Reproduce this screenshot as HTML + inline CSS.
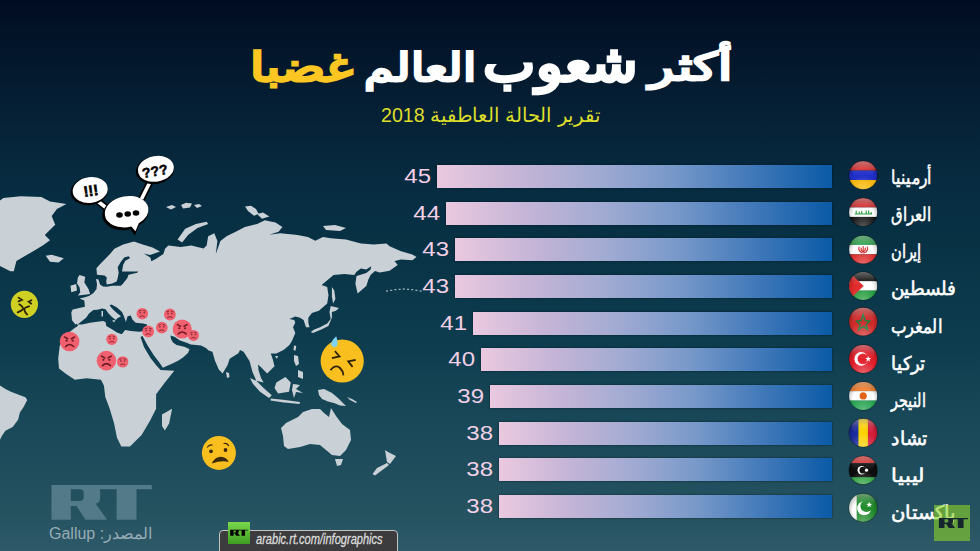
<!DOCTYPE html>
<html><head><meta charset="utf-8">
<style>
html,body{margin:0;padding:0;}
body{width:980px;height:551px;overflow:hidden;position:relative;
background:linear-gradient(180deg,#010c23 0%,#021227 5.4%,#051d32 17%,#072d42 35%,#083144 43.5%,#0b394b 54.4%,#0e3d4f 63.5%,#164656 72.6%,#1d4b5b 81.7%,#25525f 92.5%,#2d5969 100%);
font-family:"Liberation Sans",sans-serif;}
.abs{position:absolute;white-space:nowrap;}
.tw{font-size:40px;font-weight:bold;-webkit-text-stroke:1.5px currentColor;transform-origin:0 0;line-height:60px;}
svg{position:absolute;left:0;top:0;}
.bar{position:absolute;height:23px;background:linear-gradient(90deg,#eac9df 0%,#c6b5d7 20%,#a2abd2 40%,#7698c9 60%,#4078b9 80%,#0a5aa6 100%);box-shadow:0 0 2px rgba(0,10,20,.6);}
.num{position:absolute;font-size:20px;color:#f2d0e6;text-align:right;width:60px;line-height:23px;transform-origin:100% 50%;transform:scaleX(1.2);}
.name{position:absolute;left:891px;font-size:15px;font-weight:normal;-webkit-text-stroke:0.45px #fff;color:#fff;white-space:nowrap;transform-origin:0 50%;line-height:20px;}
</style></head><body>

<svg width="980" height="551" viewBox="0 0 980 551">
<path fill="#c9d1d7" fill-rule="evenodd" d="M0.0,200.5 L3.4,197.9 L20.7,196.2 L41.4,197.1 L50.0,201.4 L66.4,204.0 L56.9,209.1 L51.7,216.0 L55.2,224.7 L48.3,231.6 L44.8,235.0 L50.0,240.2 L43.1,245.3 L34.5,250.5 L22.4,257.4 L16.4,260.9 L13.8,271.2 L10.3,271.2 L0.0,266.0Z M45.7,255.7 L51.7,254.8 L63.8,258.3 L58.6,262.6 L50.0,261.7Z M79.5,275.1 L85.2,276.7 L84.4,282.4 L88.5,289.0 L90.1,293.9 L84.4,294.7 L77.9,295.5 L80.3,292.2 L79.5,287.3 L77.0,283.3 L77.9,277.6Z M70.5,285.7 L76.2,284.1 L77.0,290.6 L71.3,292.2Z M97.0,274.8 L96.4,268.3 L100.2,264.0 L110.0,254.1 L114.4,248.7 L123.1,244.4 L134.0,241.6 L142.7,244.4 L152.5,247.6 L160.0,251.5 L150.0,255.0 L143.8,253.6 L150.3,257.4 L151.4,261.2 L155.7,259.0 L163.4,254.1 L165.0,248.7 L168.4,245.5 L180.6,247.0 L191.3,245.5 L203.6,248.6 L206.6,245.5 L208.2,236.3 L214.3,233.3 L217.4,241.0 L215.8,254.0 L220.4,241.0 L226.5,236.3 L235.7,231.7 L244.9,227.1 L257.1,224.1 L264.8,220.3 L275.5,222.6 L282.4,227.1 L278.6,231.7 L269.4,234.8 L280.1,233.3 L295.4,234.8 L300.0,235.6 L307.8,237.0 L315.4,240.8 L323.0,237.0 L330.7,238.3 L346.0,239.5 L361.0,243.4 L373.8,244.6 L386.5,243.4 L389.6,246.3 L401.0,251.2 L412.4,254.5 L416.5,257.0 L412.4,260.2 L401.0,259.4 L394.5,261.0 L397.7,265.0 L389.6,270.8 L379.8,272.4 L375.0,271.0 L370.6,275.1 L368.4,279.4 L366.3,286.0 L357.6,293.6 L355.4,283.8 L356.5,276.1 L366.3,272.9 L370.6,269.6 L371.2,266.3 L366.3,269.6 L360.8,268.5 L356.5,271.8 L354.3,275.1 L344.5,274.0 L333.6,275.1 L327.0,280.5 L321.6,284.9 L327.2,287.1 L328.5,295.3 L327.2,303.6 L318.9,310.7 L311.9,313.0 L308.3,317.7 L308.3,322.5 L309.5,327.2 L306.0,327.2 L303.6,320.1 L300.0,317.7 L295.3,316.6 L289.4,318.9 L294.2,320.1 L295.3,322.5 L293.0,327.2 L295.3,333.1 L291.8,341.3 L289.4,345.0 L283.5,350.0 L276.3,353.5 L270.8,353.5 L272.7,359.0 L274.5,366.3 L267.2,373.5 L261.8,368.0 L258.1,364.4 L258.5,370.0 L261.0,378.0 L263.6,382.6 L256.3,380.8 L252.5,372.0 L249.5,361.0 L243.6,351.7 L240.0,350.0 L238.4,353.3 L229.7,358.8 L227.5,365.3 L222.6,373.4 L218.8,369.6 L215.0,360.7 L212.4,351.8 L208.6,350.5 L206.0,348.0 L201.0,345.4 L190.8,344.5 L186.0,342.5 L180.0,340.5 L175.0,337.0 L170.5,335.5 L171.0,339.0 L173.0,342.5 L176.5,345.0 L181.0,346.0 L185.0,347.0 L189.6,349.2 L188.0,353.0 L183.0,357.5 L178.0,360.7 L173.0,363.2 L162.9,367.8 L159.0,362.0 L154.0,355.6 L147.6,345.4 L142.5,336.0 L140.5,337.0 L144.0,347.0 L150.5,358.0 L156.0,365.0 L160.5,370.0 L174.3,370.8 L164.9,382.6 L156.1,394.2 L156.1,408.7 L150.3,420.3 L141.6,434.9 L130.0,446.5 L121.3,446.5 L117.0,437.8 L114.0,423.0 L109.7,408.7 L105.3,397.0 L103.9,385.5 L101.0,379.7 L86.5,378.2 L74.8,379.7 L66.1,374.0 L59.0,368.4 L58.2,358.6 L59.8,345.6 L62.5,340.7 L67.2,334.0 L74.0,328.5 L78.1,325.8 L76.8,323.7 L75.4,324.4 L72.0,320.3 L71.3,312.2 L72.7,309.5 L84.9,306.7 L84.3,300.6 L79.5,298.6 L84.0,297.5 L89.0,296.0 L93.5,293.0 L96.5,289.0 L97.0,284.0 L96.0,279.0 L98.5,279.5 L100.0,284.5 L103.0,286.5 L106.8,286.8 L112.2,285.7 L120.9,285.7 L123.1,283.5 L127.4,278.1 L128.5,274.8 L137.2,272.7 L138.3,271.6 L126.4,271.6 L122.0,271.6 L123.1,265.0 L125.3,260.7 L130.2,258.0 L128.5,256.3 L124.2,257.4 L120.9,261.8 L117.7,267.2 L118.7,272.7 L117.7,278.0 L116.6,281.4 L112.2,283.5 L106.8,284.6 L106.2,281.4 L106.8,277.6 L104.6,275.4Z M77.5,324.5 L79.5,323.0 L86.3,317.6 L89.0,313.5 L93.3,310.1 L97.3,309.7 L102.2,308.5 L105.5,309.3 L108.8,313.8 L112.0,317.0 L114.5,319.0 L116.0,320.0 L117.0,318.5 L121.0,316.2 L116.9,313.0 L112.0,308.5 L109.6,305.2 L111.5,304.5 L117.0,307.5 L122.0,312.0 L124.0,316.5 L125.9,321.9 L127.6,316.2 L130.8,315.4 L132.4,319.5 L135.7,322.8 L143.1,323.6 L147.1,324.4 L145.5,330.9 L139.0,331.7 L130.8,330.9 L125.1,330.1 L121.8,334.2 L116.9,332.6 L112.0,329.3 L106.3,326.0 L105.5,321.9 L103.0,321.1 L90.0,322.8 L82.2,324.4Z M101.5,311.0 L103.0,311.0 L103.0,316.5 L101.5,316.5Z M112.0,320.5 L115.5,320.0 L114.0,322.5Z M162.0,414.5 L172.1,408.7 L169.2,423.2 L164.9,430.5 L162.0,426.0Z M0.0,385.4 L5.4,389.0 L10.9,391.7 L18.1,394.4 L25.4,397.2 L27.2,399.9 L23.6,407.0 L19.9,412.6 L18.1,419.8 L12.7,427.0 L5.4,430.7 L1.8,436.0 L0.0,439.8Z M281.0,428.0 L286.0,423.0 L298.0,417.0 L303.0,412.0 L312.0,409.0 L320.0,409.0 L324.0,413.0 L329.0,417.0 L331.0,408.0 L336.0,416.0 L342.0,424.0 L350.0,430.0 L351.0,440.0 L346.0,450.0 L340.0,456.0 L332.0,455.0 L326.0,450.0 L320.0,445.0 L310.0,444.0 L300.0,447.0 L288.0,449.0 L284.0,446.0 L283.0,436.0Z M335.0,459.0 L343.0,459.0 L341.0,465.0 L337.0,466.0Z M385.0,450.0 L388.0,452.0 L396.0,456.0 L390.0,464.0 L387.0,462.0Z M387.0,463.0 L389.0,465.0 L381.0,471.0 L375.0,475.5 L372.5,474.0 L377.0,468.0Z M318.0,390.0 L324.0,389.0 L332.0,393.0 L338.0,398.0 L344.0,404.0 L346.0,406.0 L340.0,405.5 L334.0,403.0 L328.0,401.5 L322.0,399.0 L319.0,395.0Z M347.0,397.0 L352.0,399.0 L357.0,402.0 L356.0,403.0 L350.0,400.0Z M276.3,382.6 L285.4,377.1 L290.8,382.6 L289.0,391.7 L278.1,393.5 L274.5,388.0Z M293.0,384.0 L300.0,385.0 L296.0,389.0 L303.0,393.0 L296.0,392.0 L294.0,398.0 L292.0,390.0Z M270.8,398.5 L285.0,400.0 L300.0,402.0 L299.5,404.0 L284.0,402.5 L270.5,400.5Z M250.0,378.0 L256.3,380.8 L263.6,388.0 L271.8,395.3 L269.0,398.0 L260.0,391.7 L252.7,383.5Z M294.0,355.0 L298.0,356.0 L299.0,364.0 L296.0,366.0 L294.0,361.0Z M298.0,370.0 L303.0,372.0 L303.0,379.0 L298.0,377.0Z M294.0,345.4 L296.3,346.0 L295.5,350.8 L293.5,350.0Z M330.7,306.0 L339.0,308.0 L336.0,310.7 L331.9,311.9 L331.9,317.7 L328.4,326.0 L321.3,329.5 L313.0,333.1 L310.7,331.9 L314.2,329.5 L320.1,327.2 L327.2,323.6 L330.7,318.9 L329.5,311.9Z M331.9,287.1 L334.3,290.6 L335.4,298.9 L333.1,303.6 L331.9,296.5Z M177.6,239.4 L185.2,228.7 L195.9,224.1 L206.6,221.8 L208.2,224.1 L197.5,227.9 L188.3,234.8 L182.1,242.5Z M166.0,207.0 L172.0,205.0 L176.0,207.0 L171.0,209.5Z M181.0,205.0 L186.0,202.7 L192.0,203.5 L190.0,207.5 L183.0,208.5Z M194.0,205.0 L199.0,204.0 L202.0,206.0 L197.0,208.0Z M245.0,206.5 L251.0,205.7 L256.0,209.0 L258.7,214.0 L254.0,215.7 L248.0,211.0Z M257.0,214.0 L263.0,212.6 L269.4,216.5 L262.0,218.7Z M323.0,226.0 L335.0,225.0 L346.0,228.0 L340.0,231.0 L326.0,230.0Z M226.0,372.0 L229.0,373.0 L229.5,377.0 L227.0,378.0Z M275.0,356.0 L278.0,356.0 L277.0,359.0Z"/>
<rect x="386.0" y="290.5" width="2" height="1" fill="#c9d1d7"/>
<rect x="390.2" y="289.8" width="2" height="1" fill="#c9d1d7"/>
<rect x="394.4" y="289.2" width="2" height="1" fill="#c9d1d7"/>
<rect x="398.6" y="288.8" width="2" height="1" fill="#c9d1d7"/>
<rect x="402.8" y="288.5" width="2" height="1" fill="#c9d1d7"/>
<rect x="407.0" y="288.8" width="2" height="1" fill="#c9d1d7"/>
<rect x="411.2" y="289.2" width="2" height="1" fill="#c9d1d7"/>
<rect x="415.4" y="289.8" width="2" height="1" fill="#c9d1d7"/>
<rect x="419.6" y="290.5" width="2" height="1" fill="#c9d1d7"/>
<circle cx="69.6" cy="341.5" r="9.8" fill="#f0606e"/><g transform="translate(69.6,341.5) scale(1.000)" fill="none" stroke="#6e1c26" stroke-width="1.6" stroke-linecap="round"><path d="M-5,-4.5 L-1.8,-2.8 M5,-4.5 L1.8,-2.8"/><circle cx="-3" cy="-0.8" r="1.1" fill="#6e1c26" stroke="none"/><circle cx="3" cy="-0.8" r="1.1" fill="#6e1c26" stroke="none"/><path d="M-4,5 Q0,1 4,5"/></g>
<circle cx="111.8" cy="339.3" r="5.6" fill="#f0606e"/><g transform="translate(111.8,339.3) scale(0.982)" fill="none" stroke="#7a2430" stroke-width="0.9" stroke-linecap="round"><path d="M-3,-2.6 L-1.2,-3.2 M3,-2.6 L1.2,-3.2"/><circle cx="-1.9" cy="-0.9" r="0.8" fill="#7a2430" stroke="none"/><circle cx="1.9" cy="-0.9" r="0.8" fill="#7a2430" stroke="none"/><path d="M-2.2,2.8 Q0,0.9 2.2,2.8"/></g>
<circle cx="106.4" cy="360.6" r="9.8" fill="#f0606e"/><g transform="translate(106.4,360.6) scale(1.000)" fill="none" stroke="#6e1c26" stroke-width="1.6" stroke-linecap="round"><path d="M-5,-4.5 L-1.8,-2.8 M5,-4.5 L1.8,-2.8"/><circle cx="-3" cy="-0.8" r="1.1" fill="#6e1c26" stroke="none"/><circle cx="3" cy="-0.8" r="1.1" fill="#6e1c26" stroke="none"/><path d="M-4,5 Q0,1 4,5"/></g>
<circle cx="122.7" cy="361.9" r="5.7" fill="#f0606e"/><g transform="translate(122.7,361.9) scale(1.000)" fill="none" stroke="#7a2430" stroke-width="0.9" stroke-linecap="round"><path d="M-3,-2.6 L-1.2,-3.2 M3,-2.6 L1.2,-3.2"/><circle cx="-1.9" cy="-0.9" r="0.8" fill="#7a2430" stroke="none"/><circle cx="1.9" cy="-0.9" r="0.8" fill="#7a2430" stroke="none"/><path d="M-2.2,2.8 Q0,0.9 2.2,2.8"/></g>
<circle cx="142.3" cy="313.7" r="5.8" fill="#f0606e"/><g transform="translate(142.3,313.7) scale(1.018)" fill="none" stroke="#7a2430" stroke-width="0.9" stroke-linecap="round"><path d="M-3,-2.6 L-1.2,-3.2 M3,-2.6 L1.2,-3.2"/><circle cx="-1.9" cy="-0.9" r="0.8" fill="#7a2430" stroke="none"/><circle cx="1.9" cy="-0.9" r="0.8" fill="#7a2430" stroke="none"/><path d="M-2.2,2.8 Q0,0.9 2.2,2.8"/></g>
<circle cx="169.9" cy="314.5" r="5.9" fill="#f0606e"/><g transform="translate(169.9,314.5) scale(1.035)" fill="none" stroke="#7a2430" stroke-width="0.9" stroke-linecap="round"><path d="M-3,-2.6 L-1.2,-3.2 M3,-2.6 L1.2,-3.2"/><circle cx="-1.9" cy="-0.9" r="0.8" fill="#7a2430" stroke="none"/><circle cx="1.9" cy="-0.9" r="0.8" fill="#7a2430" stroke="none"/><path d="M-2.2,2.8 Q0,0.9 2.2,2.8"/></g>
<circle cx="148.2" cy="331.5" r="5.9" fill="#f0606e"/><g transform="translate(148.2,331.5) scale(1.035)" fill="none" stroke="#7a2430" stroke-width="0.9" stroke-linecap="round"><path d="M-3,-2.6 L-1.2,-3.2 M3,-2.6 L1.2,-3.2"/><circle cx="-1.9" cy="-0.9" r="0.8" fill="#7a2430" stroke="none"/><circle cx="1.9" cy="-0.9" r="0.8" fill="#7a2430" stroke="none"/><path d="M-2.2,2.8 Q0,0.9 2.2,2.8"/></g>
<circle cx="161.8" cy="327.7" r="5.9" fill="#f0606e"/><g transform="translate(161.8,327.7) scale(1.035)" fill="none" stroke="#7a2430" stroke-width="0.9" stroke-linecap="round"><path d="M-3,-2.6 L-1.2,-3.2 M3,-2.6 L1.2,-3.2"/><circle cx="-1.9" cy="-0.9" r="0.8" fill="#7a2430" stroke="none"/><circle cx="1.9" cy="-0.9" r="0.8" fill="#7a2430" stroke="none"/><path d="M-2.2,2.8 Q0,0.9 2.2,2.8"/></g>
<circle cx="182.2" cy="329" r="9.6" fill="#f0606e"/><g transform="translate(182.2,329) scale(0.980)" fill="none" stroke="#6e1c26" stroke-width="1.6" stroke-linecap="round"><path d="M-5,-4.5 L-1.8,-2.8 M5,-4.5 L1.8,-2.8"/><circle cx="-3" cy="-0.8" r="1.1" fill="#6e1c26" stroke="none"/><circle cx="3" cy="-0.8" r="1.1" fill="#6e1c26" stroke="none"/><path d="M-4,5 Q0,1 4,5"/></g>
<circle cx="193.5" cy="335.4" r="5.5" fill="#f0606e"/><g transform="translate(193.5,335.4) scale(0.965)" fill="none" stroke="#7a2430" stroke-width="0.9" stroke-linecap="round"><path d="M-3,-2.6 L-1.2,-3.2 M3,-2.6 L1.2,-3.2"/><circle cx="-1.9" cy="-0.9" r="0.8" fill="#7a2430" stroke="none"/><circle cx="1.9" cy="-0.9" r="0.8" fill="#7a2430" stroke="none"/><path d="M-2.2,2.8 Q0,0.9 2.2,2.8"/></g>
<circle cx="24.4" cy="304.3" r="13.6" fill="#cfd023"/><g fill="none" stroke="#2a2208" stroke-width="1.7" stroke-linecap="round"><path d="M18.5,297.6 L22,299.9 L18.5,301.4"/><path d="M31.5,300.2 L28.6,301.7 L31.3,303.7"/><path d="M19.3,304.3 Q24.5,308 22.8,309.5 Q20.5,311.5 17.6,312.4"/><path d="M29.2,306.3 Q24,307.5 24.3,309.5 Q24.8,312.5 27.2,314.5"/></g>
<circle cx="342.2" cy="361" r="21.6" fill="#f9bf1e"/><path d="M336.2,336.3 Q330,342 331.5,345.5 Q334,348.5 337,346 Q338.5,343 336.2,336.3Z" fill="#7fd3ee"/><g fill="none" stroke="#2e2208" stroke-width="1.8" stroke-linecap="square"><path d="M335.5,351.8 L339.5,356.5 L332.8,358"/><path d="M354.8,360 L348.2,361.4 L352,366.2"/><path d="M331,369.5 Q336,364 340,368 Q343,371 343.3,374.5"/></g>
<circle cx="218.9" cy="452.9" r="17" fill="#f9bf1e"/><g fill="none" stroke="#3a2a10" stroke-width="1.2" stroke-linecap="round"><path d="M207.5,447 Q209.5,444.5 212.3,445"/><path d="M224,443.5 Q227,443 228.6,445.6"/></g><circle cx="211" cy="451.3" r="1.9" fill="#3a2a10"/><circle cx="225.5" cy="450" r="1.9" fill="#3a2a10"/><path d="M211.8,463.6 Q215,456.5 221,456.8 Q226.5,457 228.7,462 Q222,459.8 211.8,463.6Z" fill="#3a2a10"/>
<g><line x1="95" y1="199" x2="109" y2="210" stroke="#000" stroke-width="7"/><line x1="150" y1="182" x2="141.5" y2="199" stroke="#000" stroke-width="7"/><line x1="95" y1="199" x2="109" y2="210" stroke="#fff" stroke-width="3.6"/><line x1="150" y1="182" x2="141.5" y2="199" stroke="#fff" stroke-width="3.6"/><ellipse cx="89.2" cy="191" rx="18.8" ry="14" fill="#000" transform="rotate(-8 90.2 190)"/><ellipse cx="90.2" cy="190" rx="17.6" ry="12.8" fill="#fff" transform="rotate(-8 90.2 190)"/><ellipse cx="154.9" cy="169.8" rx="19.3" ry="14" fill="#000" transform="rotate(-10 155.9 168.8)"/><ellipse cx="155.9" cy="168.8" rx="18.1" ry="12.8" fill="#fff" transform="rotate(-10 155.9 168.8)"/><g transform="rotate(-10 127 211)"><path d="M102.8,212 A23.2,16.6 0 1 1 149.2,212 A23.2,16.6 0 0 1 137,226.5 L131.5,235.5 L128,228.6 A23.2,16.6 0 0 1 102.8,212Z" fill="#000" transform="translate(-1,1)"/><path d="M104.5,211.5 A22,15.4 0 1 1 148.5,211.5 A22,15.4 0 0 1 136.5,225 L131.8,232.5 L128.6,227 A22,15.4 0 0 1 104.5,211.5Z" fill="#fff"/></g></g><ellipse cx="119.5" cy="215" rx="3.3" ry="2.8" fill="#000"/><ellipse cx="127.7" cy="214" rx="3.3" ry="2.8" fill="#000"/><ellipse cx="136" cy="213" rx="3.3" ry="2.8" fill="#000"/><text x="91" y="196" font-family="Liberation Sans" font-weight="bold" font-size="15" text-anchor="middle" fill="#000" stroke="#000" stroke-width="0.6" transform="rotate(-8 91 192)">!!!</text><text x="155" y="176" font-family="Liberation Sans" font-weight="bold" font-size="14" text-anchor="middle" fill="#000" stroke="#000" stroke-width="0.5" transform="rotate(-10 155 172)">???</text>
<g fill="#537a89"><path fill-rule="evenodd" d="M51.5,485 H95 Q100.2,485 100.2,492 V497 Q100.2,503.5 95.5,503.6 L107.2,519.7 H85.5 L76.5,506 H70.8 V519.7 H51.5Z M70.8,489.2 H80 Q83.7,489.2 83.7,493 V497 Q83.7,500.9 80,500.9 H70.8Z"/><path d="M95,485 H151.8 V489.2 H136.5 V519.7 H116.6 V489.2 H97Z"/></g>
</svg>
<div class="abs" id="src" style="left:49px;top:524px;font-size:16px;color:#98adb5;transform-origin:0 0;transform:scaleX(1.0)">Gallup :المصدر</div>
<div class="abs" style="left:219px;top:529.5px;width:179px;height:30px;background:#3c3c3e;border:1.2px solid #c4c4c4;border-radius:4px;box-sizing:border-box"></div>
<div class="abs" style="left:227.5px;top:522px;width:22.5px;height:22.3px;background:linear-gradient(180deg,#7ad84c,#3e9c22)"></div>
<svg width="980" height="551"><g transform="translate(221.21,445.07) scale(0.1745)" fill="#000"><path fill-rule="evenodd" d="M51.5,485 H95 Q100.2,485 100.2,492 V497 Q100.2,503.5 95.5,503.6 L107.2,519.7 H85.5 L76.5,506 H70.8 V519.7 H51.5Z M70.8,489.2 H80 Q83.7,489.2 83.7,493 V497 Q83.7,500.9 80,500.9 H70.8Z"/><path d="M95,485 H151.8 V489.2 H136.5 V519.7 H116.6 V489.2 H97Z"/></g></svg>
<div class="abs" style="left:255.5px;top:530.5px;font-size:14px;font-style:italic;color:#dcdcdc;-webkit-text-stroke:0.3px #dcdcdc;transform-origin:0 0;transform:scaleX(0.79)">arabic.rt.com/infographics</div>
<div class="abs tw" id="w0" style="left:249.8px;top:37px;color:#fcc623;transform:scale(1.067,1.0)">غضبا</div>
<div class="abs tw" id="w1" style="left:364px;top:37.5px;color:#fff;transform:scale(0.99,0.985)">العالم</div>
<div class="abs tw" id="w2" style="left:482.6px;top:24.6px;color:#fff;transform:scale(1.22,1.27)">شعوب</div>
<div class="abs tw" id="w3" style="left:649.1px;top:38.2px;color:#fff;transform:scale(1.066,0.96)">أكثر</div>
<div class="abs" id="sub" style="left:381px;top:103px;font-size:20px;color:#dede2a;transform-origin:0 0;transform:scaleX(0.98)">تقرير الحالة العاطفية 2018</div>
<div class="bar" style="left:437px;top:165.00px;width:395px"></div>
<div class="num" style="left:371px;top:165.00px">45</div>
<div class="name" id="n0" style="top:167.50px;transform:scale(1.026,1.25)">أرمينيا</div>
<div class="bar" style="left:446px;top:201.65px;width:386px"></div>
<div class="num" style="left:380px;top:201.65px">44</div>
<div class="name" id="n1" style="top:204.80px;transform:scale(0.987,1.25)">العراق</div>
<div class="bar" style="left:455px;top:238.30px;width:377px"></div>
<div class="num" style="left:389px;top:238.30px">43</div>
<div class="name" id="n2" style="top:242.10px;transform:scale(0.967,1.25)">إيران</div>
<div class="bar" style="left:455px;top:274.95px;width:377px"></div>
<div class="num" style="left:389px;top:274.95px">43</div>
<div class="name" id="n3" style="top:279.40px;transform:scale(1.216,1.25)">فلسطين</div>
<div class="bar" style="left:472.5px;top:311.60px;width:359.5px"></div>
<div class="num" style="left:406.5px;top:311.60px">41</div>
<div class="name" id="n4" style="top:316.70px;transform:scale(1.089,1.25)">المغرب</div>
<div class="bar" style="left:481px;top:348.25px;width:351px"></div>
<div class="num" style="left:415px;top:348.25px">40</div>
<div class="name" id="n5" style="top:354.00px;transform:scale(1.179,1.25)">تركيا</div>
<div class="bar" style="left:490px;top:384.90px;width:342px"></div>
<div class="num" style="left:424px;top:384.90px">39</div>
<div class="name" id="n6" style="top:391.30px;transform:scale(0.946,1.25)">النيجر</div>
<div class="bar" style="left:499px;top:421.55px;width:333px"></div>
<div class="num" style="left:433px;top:421.55px">38</div>
<div class="name" id="n7" style="top:428.60px;transform:scale(1.241,1.25)">تشاد</div>
<div class="bar" style="left:499px;top:458.20px;width:333px"></div>
<div class="num" style="left:433px;top:458.20px">38</div>
<div class="name" id="n8" style="top:465.90px;transform:scale(1.374,1.25)">ليبيا</div>
<div class="bar" style="left:499px;top:494.85px;width:333px"></div>
<div class="num" style="left:433px;top:494.85px">38</div>
<div class="name" id="n9" style="top:503.20px;transform:scale(1.292,1.25)">باكستان</div>
<svg width="980" height="551"><defs><linearGradient id="gloss" x1="0" y1="0" x2="0" y2="1"><stop offset="0" stop-color="#fff" stop-opacity="0.38"/><stop offset="0.55" stop-color="#fff" stop-opacity="0.08"/><stop offset="1" stop-color="#fff" stop-opacity="0"/></linearGradient><radialGradient id="shade" cx="0.5" cy="0.6" r="0.6"><stop offset="0.6" stop-color="#000" stop-opacity="0"/><stop offset="1" stop-color="#000" stop-opacity="0.3"/></radialGradient><radialGradient id="glow" cx="0.5" cy="1" r="0.5"><stop offset="0" stop-color="#fff" stop-opacity="0.3"/><stop offset="1" stop-color="#fff" stop-opacity="0"/></radialGradient></defs><clipPath id="cam"><circle cx="863.2" cy="175.3" r="14.2"/></clipPath><g clip-path="url(#cam)"><rect x="849.0" y="161.10000000000002" width="28.4" height="9.466666666666667" fill="#d92b2b"/><rect x="849.0" y="170.5666666666667" width="28.4" height="9.466666666666667" fill="#1f2fc8"/><rect x="849.0" y="180.03333333333336" width="28.4" height="9.466666666666667" fill="#f5b400"/><circle cx="863.2" cy="175.3" r="14.2" fill="url(#shade)"/><ellipse cx="863.2" cy="168.91000000000003" rx="11.643999999999998" ry="7.8100000000000005" fill="url(#gloss)"/><circle cx="863.2" cy="175.3" r="14.2" fill="url(#glow)"/></g><circle cx="863.2" cy="175.3" r="14.5" fill="none" stroke="rgba(0,0,0,0.35)" stroke-width="0.8"/><clipPath id="ciq"><circle cx="863.2" cy="212.2" r="14.2"/></clipPath><g clip-path="url(#ciq)"><rect x="849.0" y="198.0" width="28.4" height="9.466666666666667" fill="#d42a2a"/><rect x="849.0" y="207.46666666666667" width="28.4" height="9.466666666666667" fill="#ffffff"/><rect x="849.0" y="216.93333333333334" width="28.4" height="9.466666666666667" fill="#111111"/><path d="M854.7,214.0 H872.2 M856.2,214.0 v-3.5 M859.2,214.0 v-2.5 M861.7,214.0 v-3 M866.2,214.0 v-3.5 M868.7,214.0 v-3.5 M871.2,214.0 v-2" stroke="#2c9a3a" stroke-width="1.1" fill="none"/><circle cx="863.2" cy="212.2" r="14.2" fill="url(#shade)"/><ellipse cx="863.2" cy="205.81" rx="11.643999999999998" ry="7.8100000000000005" fill="url(#gloss)"/><circle cx="863.2" cy="212.2" r="14.2" fill="url(#glow)"/></g><circle cx="863.2" cy="212.2" r="14.5" fill="none" stroke="rgba(0,0,0,0.35)" stroke-width="0.8"/><clipPath id="cir"><circle cx="863.2" cy="249.6" r="14.2"/></clipPath><g clip-path="url(#cir)"><rect x="849.0" y="235.4" width="28.4" height="9.466666666666667" fill="#2aa04a"/><rect x="849.0" y="244.86666666666667" width="28.4" height="9.466666666666667" fill="#ffffff"/><rect x="849.0" y="254.33333333333334" width="28.4" height="9.466666666666667" fill="#dd2a2a"/><path d="M859.2,246.6 Q857.7,250.6 862.2,253.1 M867.2,246.6 Q868.7,250.6 864.2,253.1 M863.2,246.1 V253.6 M861.2,247.6 Q860.7,250.6 862.7,251.6 M865.2,247.6 Q865.7,250.6 863.7,251.6" stroke="#d42a2a" stroke-width="1.1" fill="none"/><circle cx="863.2" cy="249.6" r="14.2" fill="url(#shade)"/><ellipse cx="863.2" cy="243.21" rx="11.643999999999998" ry="7.8100000000000005" fill="url(#gloss)"/><circle cx="863.2" cy="249.6" r="14.2" fill="url(#glow)"/></g><circle cx="863.2" cy="249.6" r="14.5" fill="none" stroke="rgba(0,0,0,0.35)" stroke-width="0.8"/><clipPath id="cps"><circle cx="863.2" cy="285.9" r="14.2"/></clipPath><g clip-path="url(#cps)"><rect x="849.0" y="271.7" width="28.4" height="9.466666666666667" fill="#151515"/><rect x="849.0" y="281.16666666666663" width="28.4" height="9.466666666666667" fill="#ffffff"/><rect x="849.0" y="290.6333333333333" width="28.4" height="9.466666666666667" fill="#1f9a3a"/><path d="M849.0,271.7 L863.7,285.9 L849.0,300.09999999999997Z" fill="#e02a2a"/><circle cx="863.2" cy="285.9" r="14.2" fill="url(#shade)"/><ellipse cx="863.2" cy="279.51" rx="11.643999999999998" ry="7.8100000000000005" fill="url(#gloss)"/><circle cx="863.2" cy="285.9" r="14.2" fill="url(#glow)"/></g><circle cx="863.2" cy="285.9" r="14.5" fill="none" stroke="rgba(0,0,0,0.35)" stroke-width="0.8"/><clipPath id="cma"><circle cx="863.2" cy="321.6" r="14.2"/></clipPath><g clip-path="url(#cma)"><rect x="849.0" y="307.40000000000003" width="28.4" height="28.4" fill="#cf2a2a"/><path d="M863.2,314.6 L865.2,320.6 L869.7,321.1 L866.2,324.6 L867.7,329.6 L863.2,326.6 L858.7,329.6 L860.2,324.6 L856.7,321.1 L861.2,320.6Z" fill="none" stroke="#1f7a3a" stroke-width="1.5"/><circle cx="863.2" cy="321.6" r="14.2" fill="url(#shade)"/><ellipse cx="863.2" cy="315.21000000000004" rx="11.643999999999998" ry="7.8100000000000005" fill="url(#gloss)"/><circle cx="863.2" cy="321.6" r="14.2" fill="url(#glow)"/></g><circle cx="863.2" cy="321.6" r="14.5" fill="none" stroke="rgba(0,0,0,0.35)" stroke-width="0.8"/><clipPath id="ctr"><circle cx="863.2" cy="358.9" r="14.2"/></clipPath><g clip-path="url(#ctr)"><rect x="849.0" y="344.7" width="28.4" height="28.4" fill="#e01e2a"/><circle cx="861.2" cy="358.9" r="6.8" fill="#ffffff"/><circle cx="863.0" cy="358.9" r="5.4" fill="#e01e2a"/><path d="M868.2,355.9 L869.0,358.09999999999997 L871.2,358.09999999999997 L869.4000000000001,359.5 L870.1,361.7 L868.2,360.29999999999995 L866.3000000000001,361.7 L867.0,359.5 L865.2,358.09999999999997 L867.4000000000001,358.09999999999997Z" fill="#fff"/><circle cx="863.2" cy="358.9" r="14.2" fill="url(#shade)"/><ellipse cx="863.2" cy="352.51" rx="11.643999999999998" ry="7.8100000000000005" fill="url(#gloss)"/><circle cx="863.2" cy="358.9" r="14.2" fill="url(#glow)"/></g><circle cx="863.2" cy="358.9" r="14.5" fill="none" stroke="rgba(0,0,0,0.35)" stroke-width="0.8"/><clipPath id="cne"><circle cx="863.2" cy="395.9" r="14.2"/></clipPath><g clip-path="url(#cne)"><rect x="849.0" y="381.7" width="28.4" height="9.466666666666667" fill="#f07820"/><rect x="849.0" y="391.16666666666663" width="28.4" height="9.466666666666667" fill="#ffffff"/><rect x="849.0" y="400.6333333333333" width="28.4" height="9.466666666666667" fill="#1ea04a"/><circle cx="863.2" cy="395.9" r="3.6" fill="#e06010"/><circle cx="863.2" cy="395.9" r="14.2" fill="url(#shade)"/><ellipse cx="863.2" cy="389.51" rx="11.643999999999998" ry="7.8100000000000005" fill="url(#gloss)"/><circle cx="863.2" cy="395.9" r="14.2" fill="url(#glow)"/></g><circle cx="863.2" cy="395.9" r="14.5" fill="none" stroke="rgba(0,0,0,0.35)" stroke-width="0.8"/><clipPath id="ctd"><circle cx="863.2" cy="432.8" r="14.2"/></clipPath><g clip-path="url(#ctd)"><rect x="849.0" y="418.6" width="9.466666666666667" height="28.4" fill="#1a2a9a"/><rect x="858.4666666666667" y="418.6" width="9.466666666666667" height="28.4" fill="#fcd000"/><rect x="867.9333333333333" y="418.6" width="9.466666666666667" height="28.4" fill="#d41e3a"/><circle cx="863.2" cy="432.8" r="14.2" fill="url(#shade)"/><ellipse cx="863.2" cy="426.41" rx="11.643999999999998" ry="7.8100000000000005" fill="url(#gloss)"/><circle cx="863.2" cy="432.8" r="14.2" fill="url(#glow)"/></g><circle cx="863.2" cy="432.8" r="14.5" fill="none" stroke="rgba(0,0,0,0.35)" stroke-width="0.8"/><clipPath id="cly"><circle cx="863.2" cy="470.2" r="14.2"/></clipPath><g clip-path="url(#cly)"><rect x="849.0" y="456.0" width="28.4" height="7.1" fill="#e02a2a"/><rect x="849.0" y="463.1" width="28.4" height="14.2" fill="#0d0d0d"/><rect x="849.0" y="477.3" width="28.4" height="7.1" fill="#2aa03a"/><circle cx="861.7" cy="470.2" r="4.2" fill="#fff"/><circle cx="862.9000000000001" cy="470.2" r="3.4" fill="#0d0d0d"/><circle cx="866.5" cy="470.2" r="1.6" fill="#fff"/><circle cx="863.2" cy="470.2" r="14.2" fill="url(#shade)"/><ellipse cx="863.2" cy="463.81" rx="11.643999999999998" ry="7.8100000000000005" fill="url(#gloss)"/><circle cx="863.2" cy="470.2" r="14.2" fill="url(#glow)"/></g><circle cx="863.2" cy="470.2" r="14.5" fill="none" stroke="rgba(0,0,0,0.35)" stroke-width="0.8"/><clipPath id="cpk"><circle cx="863.2" cy="507.7" r="14.2"/></clipPath><g clip-path="url(#cpk)"><rect x="849.0" y="493.5" width="28.4" height="28.4" fill="#1f8a2a"/><rect x="849.0" y="493.5" width="7.668" height="28.4" fill="#ffffff"/><circle cx="864.2" cy="508.2" r="7" fill="#fff"/><circle cx="866.4000000000001" cy="506.09999999999997" r="6" fill="#1f8a2a"/><path d="M869.2,501.7 l0.8,2 2,0.2 -1.6,1.3 0.6,2 -1.8,-1.1 -1.8,1.1 0.6,-2 -1.6,-1.3 2,-0.2Z" fill="#fff"/><circle cx="863.2" cy="507.7" r="14.2" fill="url(#shade)"/><ellipse cx="863.2" cy="501.31" rx="11.643999999999998" ry="7.8100000000000005" fill="url(#gloss)"/><circle cx="863.2" cy="507.7" r="14.2" fill="url(#glow)"/></g><circle cx="863.2" cy="507.7" r="14.5" fill="none" stroke="rgba(0,0,0,0.35)" stroke-width="0.8"/></svg>
<div class="abs" style="left:934px;top:505px;width:36px;height:36px;background:rgba(138,210,40,0.62)"></div>
<svg width="980" height="551"><g transform="translate(923.97,377.35) scale(0.29)" fill="#16262e"><path fill-rule="evenodd" d="M51.5,485 H95 Q100.2,485 100.2,492 V497 Q100.2,503.5 95.5,503.6 L107.2,519.7 H85.5 L76.5,506 H70.8 V519.7 H51.5Z M70.8,489.2 H80 Q83.7,489.2 83.7,493 V497 Q83.7,500.9 80,500.9 H70.8Z"/><path d="M95,485 H151.8 V489.2 H136.5 V519.7 H116.6 V489.2 H97Z"/></g></svg>
<script>
(function(){
 var T={w0:103.5,w1:111.9,w2:154.9,w3:83.1,sub:220.5,src:103,n0:40.0,n1:39.5,n2:30.0,n3:64.4,n4:51.2,n5:34.2,n6:35.0,n7:36.0,n8:34.3,n9:64.6};
 for (var k in T){
  var e=document.getElementById(k); if(!e) continue;
  var r=e.getBoundingClientRect(); if(!r.width) continue;
  var ratio=T[k]/r.width; if(Math.abs(ratio-1)<0.015) continue;
  var t=getComputedStyle(e).transform, a=1, d=1;
  if(t && t!=='none'){var p=t.replace(/^matrix\(|\)$/g,'').split(',');a=parseFloat(p[0]);d=parseFloat(p[3]);}
  e.style.transform='scale('+(a*ratio)+','+d+')';
 }
})();
</script>
</body></html>
